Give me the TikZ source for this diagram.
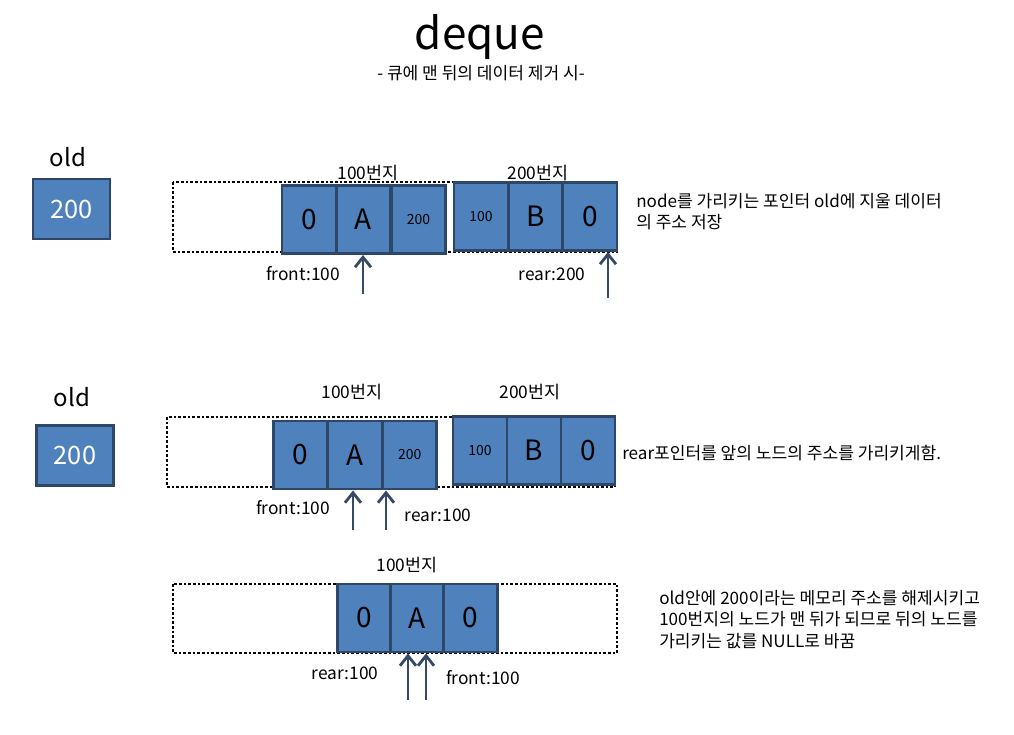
\documentclass[tikz,border=0pt]{standalone}
\usepackage{fontspec}
\setmainfont{Noto Sans CJK KR}
\usetikzlibrary{arrows.meta}
\definecolor{cellfill}{HTML}{4F81BD}
\definecolor{cellline}{HTML}{2E4769}
\definecolor{ptrcol}{HTML}{364A66}
\begin{document}
\begin{tikzpicture}[x=0.75pt,y=-0.75pt,
  cell/.style={draw=cellline, fill=cellfill, line width=2.2pt, minimum width=40.5pt, minimum height=51pt, inner sep=0pt, font=\fontsize{21}{24}\selectfont},
  smallcell/.style={cell, font=\fontsize{10.5}{12}\selectfont},
  oldbox/.style={draw=cellline, fill=cellfill, line width=2.2pt, minimum width=57.75pt, minimum height=45pt, inner sep=0pt, text=white, font=\fontsize{19}{22}\selectfont},
  oldlbl/.style={inner sep=0pt, font=\fontsize{18}{21}\selectfont},
  lbl/.style={inner sep=0pt, font=\fontsize{13}{15}\selectfont},
  note/.style={inner sep=0pt, align=left, font=\fontsize{12.8}{16}\selectfont},
  dotbox/.style={draw=black, line width=2pt, dash pattern=on 2pt off 1.5pt},
  ptr/.style={draw=ptrcol, line width=2.1pt, -{Straight Barb[length=7.5pt,width=12pt,line width=2.1pt]}}
]
\fill[white] (0,0) rectangle (1014,735);
\useasboundingbox (0,0) rectangle (1014,735);

% title
\node[inner sep=0pt, font=\fontsize{33}{38}\selectfont] (title) at (480,37) {deque};
\node[inner sep=0pt, font=\fontsize{12.8}{15}\selectfont] (subtitle) at (481,73) {- 큐에 맨 뒤의 데이터 제거 시-};

% ---------- row 1 ----------
\node[oldlbl] (old1) at (68,157) {old};
\node[oldbox] (ob1) at (71.5,209) {200};
\draw[dotbox] (173,182) rectangle (617,252);
\node[cell] (r1a0) at (309,219.5) {0};
\node[cell] (r1aA) at (363.5,219.5) {A};
\node[smallcell] (r1ap) at (418.5,219.5) {200};
\node[smallcell] (r1bp) at (481,216.5) {100};
\node[cell] (r1bB) at (535.5,216.5) {B};
\node[cell] (r1b0) at (590,216.5) {0};
\node[lbl] (adr1a) at (368,173) {100번지};
\node[lbl] (adr1b) at (538,173) {200번지};
\node[lbl] (fr1) at (303,274) {front:100};
\node[lbl] (re1) at (552,274) {rear:200};
\coordinate (f1) at (363,294);
\coordinate (e1) at (608,298);
\draw[ptr] (f1) -- (f1 |- r1aA.south);
\draw[ptr] (e1) -- (e1 |- r1b0.south);
\node[note, anchor=north west] (n1) at (636,193) {node를 가리키는 포인터 old에 지울 데이터\\의 주소 저장};

% ---------- row 2 ----------
\node[oldlbl] (old2) at (72,397) {old};
\node[oldbox] (ob2) at (75,455.5) {200};
\draw[dotbox] (167,417) rectangle (615,487);
\node[cell] (r2a0) at (300.3,455) {0};
\node[cell] (r2aA) at (355,455) {A};
\node[smallcell] (r2ap) at (409.7,455) {200};
\node[smallcell] (r2bp) at (480,450.5) {100};
\node[cell] (r2bB) at (534,450.5) {B};
\node[cell] (r2b0) at (588,450.5) {0};
\node[lbl] (adr2a) at (352,392) {100번지};
\node[lbl] (adr2b) at (530,392) {200번지};
\node[lbl] (fr2) at (293,508) {front:100};
\node[lbl] (re2) at (438,515) {rear:100};
\coordinate (f2) at (353,530);
\coordinate (e2) at (386,530);
\draw[ptr] (f2) -- (f2 |- r2aA.south);
\draw[ptr] (e2) -- (e2 |- r2ap.south);
\node[note, anchor=west] (n2) at (622,453) {rear포인터를 앞의 노드의 주소를 가리키게함.};

% ---------- row 3 ----------
\draw[dotbox] (173,584) rectangle (617,653);
\node[cell] (r3a0) at (364.5,618) {0};
\node[cell] (r3aA) at (417.5,618) {A};
\node[cell] (r3an) at (470.5,618) {0};
\node[lbl] (adr3a) at (407,565) {100번지};
\node[lbl] (re3) at (345,673) {rear:100};
\node[lbl] (fr3) at (483,678) {front:100};
\coordinate (e3) at (408,700);
\coordinate (f3) at (426,700);
\draw[ptr] (e3) -- (e3 |- r3aA.south);
\draw[ptr] (f3) -- (f3 |- r3aA.south);
\node[note, anchor=north west] (n3) at (659,590) {old안에 200이라는 메모리 주소를 해제시키고\\100번지의 노드가 맨 뒤가 되므로 뒤의 노드를\\가리키는 값를 NULL로 바꿈};
\end{tikzpicture}
\end{document}
